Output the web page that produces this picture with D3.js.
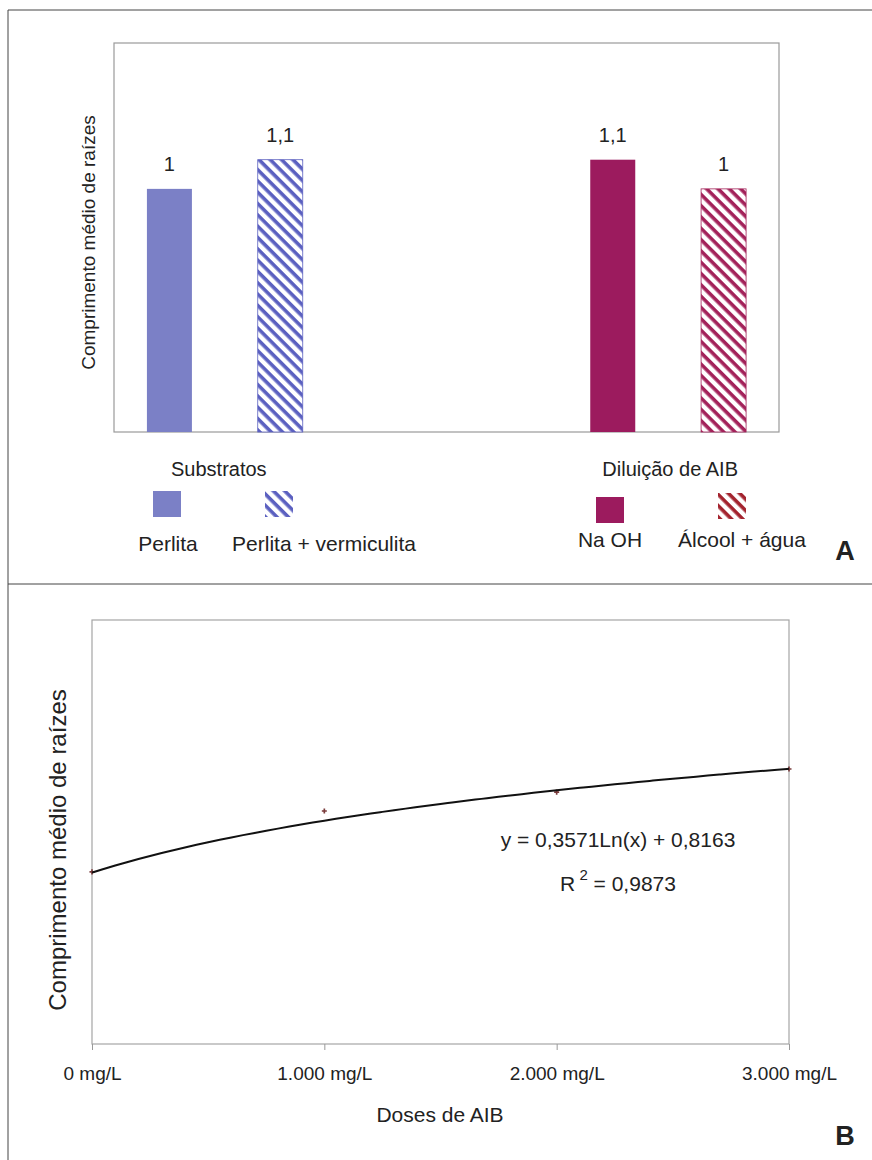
<!DOCTYPE html>
<html>
<head>
<meta charset="utf-8">
<script src="https://d3js.org/d3.v7.min.js"></script>
<style>
  body { margin: 0; background: #fff; }
  text { font-family: "Liberation Sans", Arial, sans-serif; fill: #222; }
</style>
</head>
<body>
<script>
// panel A data
const barSlots = ['Perlita', 'Perlita + vermiculita', 'gap1', 'gap2', 'Na OH', 'Álcool + água'];
const barNames = ['Perlita', 'Perlita + vermiculita', 'Na OH', 'Álcool + água'];
const barValues = [1.0, 1.12, 1.12, 1.0];
const barHatched = [false, true, false, true];
const barColors = ['#7b80c6', '#5b60c0', '#9c1b5e', '#a3225a'];
const legendColors = ['#7b80c6', '#5b60c0', '#9c1b5e', '#a3232e'];
const groupNames = ['Substratos', 'Diluição de AIB'];

// panel B data
const doseLabels = ['0 mg/L', '1.000 mg/L', '2.000 mg/L', '3.000 mg/L'];
const doseObserved = [0.82, 1.11, 1.20, 1.31];
const fitA = 0.3571, fitB = 0.8163;

const w = 872, h = 1160;
const svg = d3.select('body').append('svg').attr('width', w).attr('height', h);

const defs = svg.append('defs');
function hatch(id, color) {
    const p = defs.append('pattern').attr('id', id)
        .attr('patternUnits', 'userSpaceOnUse')
        .attr('width', 8).attr('height', 8)
        .attr('patternTransform', 'rotate(45)');
    p.append('rect').attr('width', 8).attr('height', 8).attr('fill', '#fff');
    p.append('rect').attr('width', 8).attr('height', 3.6).attr('fill', color);
}
barColors.forEach((c, i) => hatch('bar' + i, c));
legendColors.forEach((c, i) => hatch('leg' + i, c));

// outer frame
svg.append('path').attr('d', `M8,${h} V10 H${w}`).attr('fill', 'none').attr('stroke', '#444');
svg.append('line').attr('x1', 8).attr('x2', w).attr('y1', 584).attr('y2', 584).attr('stroke', '#444');

// ---------- Panel A ----------
const A = { x0: 114, x1: 779, y0: 43, y1: 432 };
const xA = d3.scaleBand().domain(barSlots).range([A.x0, A.x1]).paddingInner(0.594).paddingOuter(0.297);
const yA = d3.scaleLinear().domain([0, 1.6]).range([A.y1, A.y0]);
const fmt = v => d3.format('.2~g')(v).replace('.', ',');

svg.append('rect').attr('x', A.x0).attr('y', A.y0).attr('width', A.x1 - A.x0).attr('height', A.y1 - A.y0)
    .attr('fill', '#fff').attr('stroke', '#9a9a9a').attr('stroke-width', 1.2);

svg.selectAll('.bar').data(barNames).enter().append('rect')
    .attr('class', 'bar')
    .attr('x', d => xA(d))
    .attr('width', xA.bandwidth())
    .attr('y', (d, i) => yA(barValues[i]))
    .attr('height', (d, i) => yA(0) - yA(barValues[i]))
    .attr('fill', (d, i) => barHatched[i] ? 'url(#bar' + i + ')' : barColors[i])
    .attr('stroke', (d, i) => barHatched[i] ? barColors[i] : 'none')
    .attr('stroke-width', 0.8);

svg.selectAll('.vlab').data(barNames).enter().append('text')
    .attr('x', d => xA(d) + xA.bandwidth() / 2)
    .attr('y', (d, i) => yA(barValues[i]) - 18)
    .attr('text-anchor', 'middle').attr('font-size', '20px')
    .text((d, i) => fmt(barValues[i]));

svg.append('text')
    .attr('transform', `translate(95,${(A.y0 + A.y1) / 2 + 5}) rotate(-90)`)
    .attr('text-anchor', 'middle').attr('font-size', '19px')
    .text('Comprimento médio de raízes');

// group labels
[[0, 1], [2, 3]].forEach((pair, g) => {
    const cx = (xA(barNames[pair[0]]) + xA(barNames[pair[1]]) + xA.bandwidth()) / 2;
    svg.append('text').attr('x', cx - 6 + g * 8).attr('y', 476)
        .attr('text-anchor', 'middle').attr('font-size', '20px').text(groupNames[g]);
});

// legend
const legX = [167, 279, 610, 732];
const legLabX = [168, 324, 610, 742];
const legY = [491, 491, 497, 493];
const legLabY = [551, 551, 547, 547];
barNames.forEach((d, i) => {
    svg.append('rect').attr('x', legX[i] - 14).attr('y', legY[i]).attr('width', 28).attr('height', 26)
        .attr('fill', barHatched[i] ? 'url(#leg' + i + ')' : legendColors[i]);
    svg.append('text').attr('x', legLabX[i]).attr('y', legLabY[i])
        .attr('text-anchor', 'middle').attr('font-size', '21px').text(d);
});
svg.append('text').attr('x', 845).attr('y', 560).attr('text-anchor', 'middle')
    .attr('font-size', '27px').attr('font-weight', 'bold').text('A');

// ---------- Panel B ----------
const B = { x0: 92, x1: 789, y0: 620, y1: 1044 };
const xB = d3.scalePoint().domain(doseLabels).range([B.x0, B.x1]);
const xBn = d3.scaleLinear().domain([1, 4]).range([B.x0, B.x1]);
const yB = d3.scaleLinear().domain([0, 2.02]).range([B.y1, B.y0]);

svg.append('rect').attr('x', B.x0).attr('y', B.y0).attr('width', B.x1 - B.x0).attr('height', B.y1 - B.y0)
    .attr('fill', '#fff').attr('stroke', '#a5a5a5').attr('stroke-width', 1.2);

const axisB = d3.axisBottom(xB).tickSize(6).tickPadding(17);
const gAx = svg.append('g').attr('transform', `translate(0,${B.y1})`).call(axisB);
gAx.select('.domain').remove();
gAx.selectAll('line').attr('stroke', '#999');
gAx.selectAll('text').attr('font-size', '19px')
    .attr('font-family', '"Liberation Sans", Arial, sans-serif').attr('fill', '#222');

svg.append('text').attr('x', 440).attr('y', 1122).attr('text-anchor', 'middle')
    .attr('font-size', '21px').text('Doses de AIB');

svg.append('text')
    .attr('transform', `translate(66,${(B.y0 + B.y1) / 2 + 18}) rotate(-90)`)
    .attr('text-anchor', 'middle').attr('font-size', '24px')
    .text('Comprimento médio de raízes');

// observed markers
svg.selectAll('.obs').data(doseObserved).enter().append('path')
    .attr('d', d3.symbol(d3.symbolCross, 14))
    .attr('transform', (d, i) => `translate(${xBn(i + 1)},${yB(d)})`)
    .attr('fill', '#7a3b3b');

// logarithmic fit
const fitX = d3.range(1, 4.001, 0.05);
const line = d3.line().x(d => xBn(d)).y(d => yB(fitA * Math.log(d) + fitB)).curve(d3.curveBasis);
svg.append('path').datum(fitX).attr('d', line)
    .attr('fill', 'none').attr('stroke', '#111').attr('stroke-width', 2);

svg.append('text').attr('x', 618).attr('y', 847).attr('text-anchor', 'middle')
    .attr('font-size', '21px').text('y = 0,3571Ln(x) + 0,8163');
const r2 = svg.append('text').attr('x', 618).attr('y', 891).attr('text-anchor', 'middle').attr('font-size', '21px');
r2.append('tspan').text('R');
r2.append('tspan').attr('dy', -11).attr('font-size', '15px').text(' 2');
r2.append('tspan').attr('dy', 11).text(' = 0,9873');

svg.append('text').attr('x', 845).attr('y', 1145).attr('text-anchor', 'middle')
    .attr('font-size', '27px').attr('font-weight', 'bold').text('B');
</script>
</body>
</html>
